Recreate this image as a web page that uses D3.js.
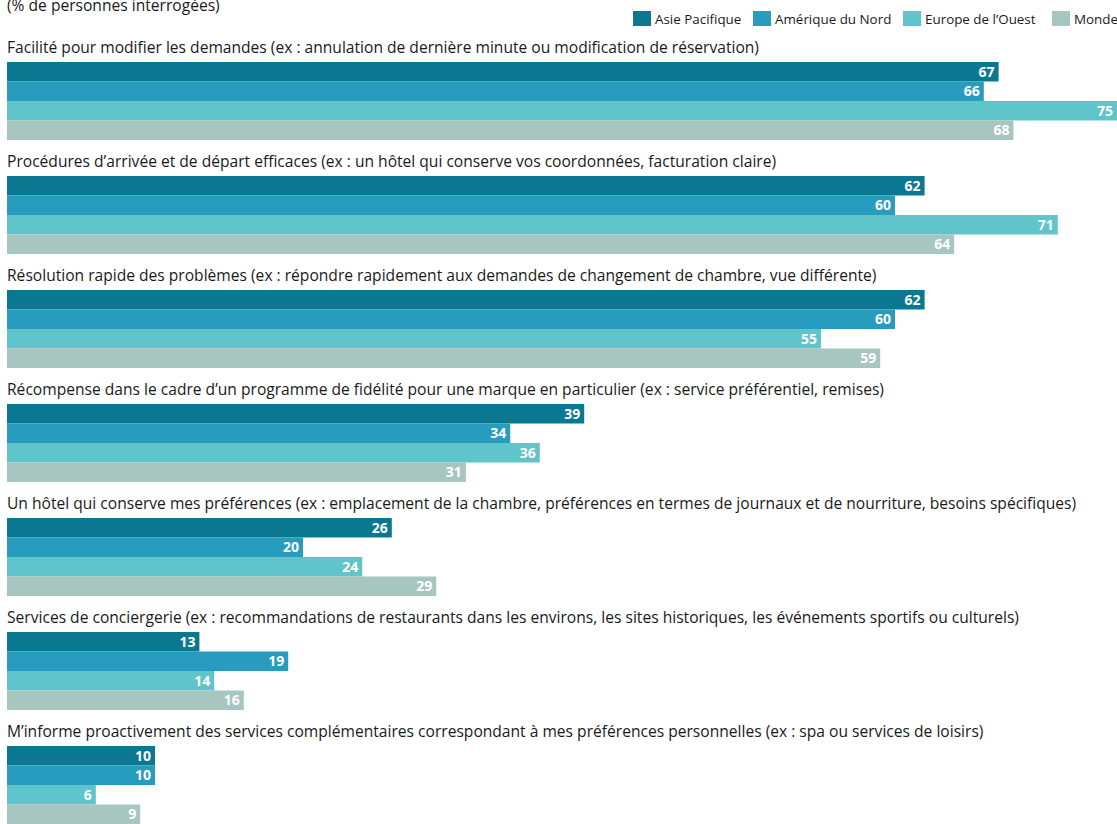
<!DOCTYPE html>
<html>
<head>
<meta charset="utf-8">
<script src="https://cdn.jsdelivr.net/npm/d3@7"></script>
<style>
  body { margin: 0; background: #fff; }
  svg { display: block; font-family: "Open Sans", sans-serif; }
  .cat { font-size: 15.6px; fill: #1a1a1a; }
  .val { font-size: 14px; font-weight: bold; fill: #fff; }
  .leg { font-size: 13.4px; fill: #1a1a1a; }
</style>
</head>
<body>
<svg id="chart" width="1117" height="824"></svg>
<script>
const categories = [
  "Facilité pour modifier les demandes (ex : annulation de dernière minute ou modification de réservation)",
  "Procédures d’arrivée et de départ efficaces (ex : un hôtel qui conserve vos coordonnées, facturation claire)",
  "Résolution rapide des problèmes (ex : répondre rapidement aux demandes de changement de chambre, vue différente)",
  "Récompense dans le cadre d’un programme de fidélité pour une marque en particulier (ex : service préférentiel, remises)",
  "Un hôtel qui conserve mes préférences (ex : emplacement de la chambre, préférences en termes de journaux et de nourriture, besoins spécifiques)",
  "Services de conciergerie (ex : recommandations de restaurants dans les environs, les sites historiques, les événements sportifs ou culturels)",
  "M’informe proactivement des services complémentaires correspondant à mes préférences personnelles (ex : spa ou services de loisirs)"
];
const seriesNames = ["Asie Pacifique", "Amérique du Nord", "Europe de l’Ouest", "Monde"];
const asiePacifique = [67, 62, 62, 39, 26, 13, 10];
const ameriqueDuNord = [66, 60, 60, 34, 20, 19, 10];
const europeOuest = [75, 71, 55, 36, 24, 14, 6];
const monde = [68, 64, 59, 31, 29, 16, 9];
const colors = ["#0b7891", "#279cbf", "#60c4cb", "#a7c6c0"];

const seriesValues = [asiePacifique, ameriqueDuNord, europeOuest, monde];
const rows = [];
categories.forEach((c, i) => {
  seriesNames.forEach((s, j) => {
    rows.push({ cat: c, series: s, value: seriesValues[j][i] });
  });
});

const svg = d3.select("#chart");
const margin = { left: 7, top: 62 };

const x = d3.scaleLinear().domain([0, 75]).range([margin.left, 1117]);
const y0 = d3.scaleBand().domain(categories).range([margin.top, margin.top + 114 * categories.length]);
const y1 = d3.scaleBand().domain(seriesNames).range([0, 78]);
const color = d3.scaleOrdinal().domain(seriesNames).range(colors);

// subtitle (cut at the top in the original too)
svg.append("text")
  .attr("class", "cat")
  .attr("x", 7)
  .attr("y", 11)
  .text("(% de personnes interrogées)");

// legend
const legendX = [633, 753, 903, 1052];
const leg = svg.selectAll(".legItem")
  .data(seriesNames)
  .enter()
  .append("g")
  .attr("class", "legItem")
  .attr("transform", (d, i) => "translate(" + legendX[i] + ",11)");
leg.append("rect")
  .attr("width", 18)
  .attr("height", 15)
  .attr("fill", d => color(d));
leg.append("text")
  .attr("class", "leg")
  .attr("x", 22)
  .attr("y", 12.5)
  .text(d => d);

const groups = svg.selectAll(".group")
  .data(categories)
  .enter()
  .append("g")
  .attr("class", "group")
  .attr("transform", d => "translate(0," + y0(d) + ")");

groups.append("text")
  .attr("class", "cat")
  .attr("x", 7)
  .attr("y", -9)
  .text(d => d);

groups.selectAll("rect")
  .data(d => rows.filter(r => r.cat === d))
  .enter()
  .append("rect")
  .attr("x", x(0))
  .attr("y", d => y1(d.series))
  .attr("width", d => x(d.value) - x(0))
  .attr("height", y1.bandwidth())
  .attr("fill", d => color(d.series));

groups.selectAll(".val")
  .data(d => rows.filter(r => r.cat === d))
  .enter()
  .append("text")
  .attr("class", "val")
  .attr("x", d => x(d.value) - 4)
  .attr("y", d => y1(d.series) + y1.bandwidth() / 2 + 5)
  .attr("text-anchor", "end")
  .text(d => d.value);
</script>
</body>
</html>
